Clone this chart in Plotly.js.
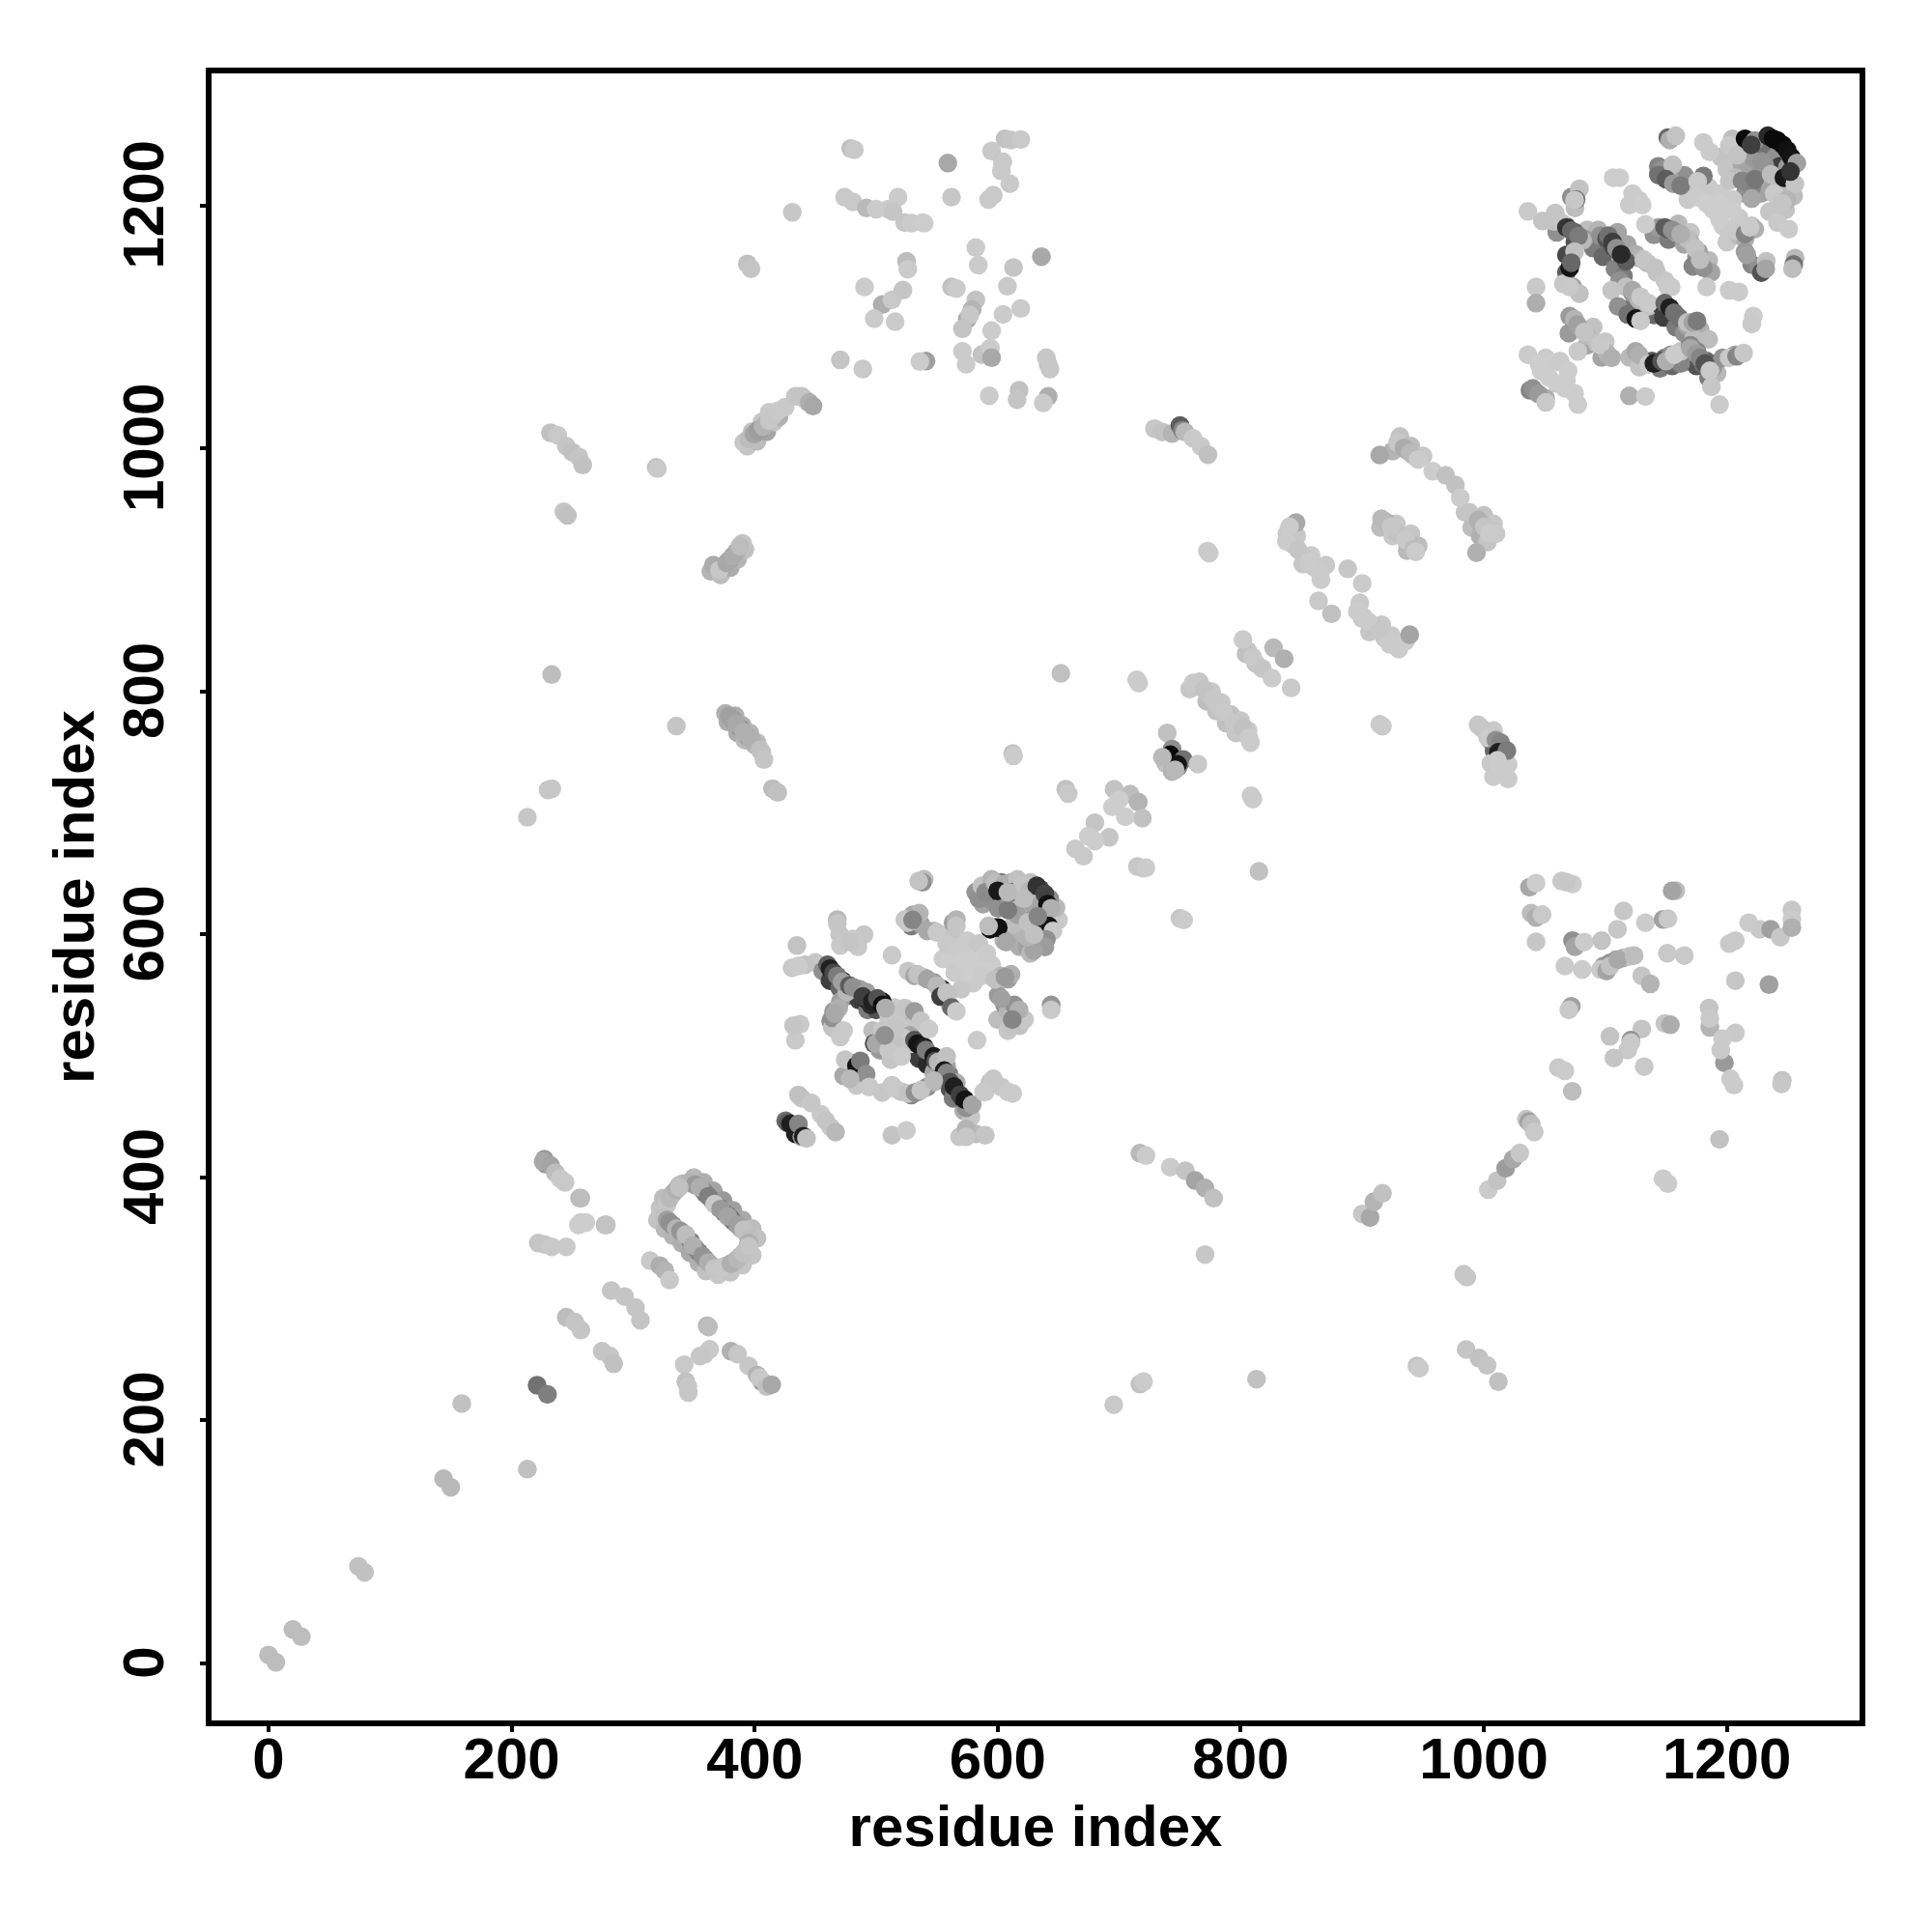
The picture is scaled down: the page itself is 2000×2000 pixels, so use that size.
<!DOCTYPE html>
<html>
<head>
<meta charset="utf-8">
<script src="https://cdn.plot.ly/plotly-3.0.1.min.js"></script>
<style>html,body{margin:0;padding:0;background:#fff}</style>
</head>
<body>
<div id="chart" style="width:2000px;height:2000px"></div>
<script>
const xLabelText = "residue index";
const yLabelText = "residue index";
const tickValues = [0, 200, 400, 600, 800, 1000, 1200];
// each contact: [residue i, residue j, score] (score 0 = lightest, 100 = black)
const fillRing = [[350,400,10],[358,396,15],[366,389,20],[374,381,25],[382,373,22],[390,365,18],[398,358,8],[402,350,6],[320,365,5],[326,358,10],[333,352,12],[340,346,15],[347,338,18],[354,330,14],[360,323,6],[370,320,3],[380,322,5],[390,328,4],[398,336,4]];
const fillLeft = [[376,782,14],[384,780,14],[390,772,14],[396,766,12],[402,758,8],[406,750,4],[378,775,16],[386,766,16],[392,760,10],[364,899,12],[372,896,8],[380,902,16],[386,909,12],[392,917,6],[390,922,4],[394,1002,4],[402,1006,8],[410,1014,20],[416,1022,5],[398,1014,5],[406,1022,3],[412,1030,2],[420,1026,14]];
const fillDiagonal = [[838,930,2],[846,928,3],[851,905,3],[858,912,1],[866,892,1],[870,904,2],[915,935,8],[928,938,3],[940,930,3],[946,920,8],[925,928,2],[937,916,10],[898,873,2],[906,849,4],[916,855,2],[924,846,2],[930,835,1],[900,860,3],[758,802,3],[766,808,3],[776,800,2],[784,791,2],[792,781,5],[800,776,3],[806,768,2],[772,792,8],[780,784,5],[788,774,6],[796,766,3],[808,758,1],[931,1010,5],[940,1002,8],[950,994,3],[925,998,12],[1000,945,6],[1008,938,3],[990,935,8],[997,928,14],[1003,923,4],[1010,930,2],[1008,768,2],[1016,745,2],[1020,740,1],[1008,730,1],[1020,728,1]];
const fillTopRight = [[1060,1178,30],[1075,1170,60],[1090,1165,40],[1098,1158,50],[1108,1148,35],[1115,1142,40],[1085,1180,8],[1094,1180,12],[1110,1178,20],[1118,1168,20],[1125,1160,15],[1140,1176,30],[1152,1172,40],[1165,1168,20],[1175,1158,30],[1172,1150,35],[1185,1155,10],[1187,1145,20],[1160,1185,10],[1170,1178,4],[1120,1115,45],[1130,1112,60],[1140,1110,50],[1148,1108,70],[1158,1100,40],[1165,1095,30],[1178,1098,15],[1185,1090,8],[1168,1072,50],[1175,1068,60],[1185,1058,40],[1192,1062,10],[1120,1075,10],[1128,1067,5],[1145,1066,40],[1155,1068,50],[1162,1070,35],[1070,1095,25],[1085,1085,20],[1097,1075,20],[1090,1100,6],[1100,1088,3],[1195,1240,5],[1200,1230,4],[1210,1250,10],[1220,1242,25],[1230,1245,45],[1240,1240,30],[1243,1232,70],[1250,1232,25],[1235,1215,8],[1245,1212,5],[1255,1208,8],[1228,1210,20],[1215,1210,30],[1165,1225,30],[1172,1212,4],[1168,1205,2],[1185,1215,2],[1195,1210,1],[1205,1205,1],[1210,1190,1],[1200,1170,2],[1235,1195,4]];
const fillCentre = [[450,577,3],[456,570,30],[462,562,70],[470,556,50],[478,550,60],[486,546,70],[493,538,40],[500,538,60],[515,540,2],[520,505,15],[527,505,40],[535,498,70],[542,493,80],[550,483,60],[560,485,40],[566,478,15],[572,455,15],[578,450,3],[470,600,3],[485,590,2],[490,600,3],[505,470,3],[565,595,1],[575,595,1],[555,580,1],[595,575,1],[580,560,1],[570,555,3],[600,530,8],[618,525,5],[622,530,3],[605,595,12],[618,590,15],[640,615,10],[650,612,2],[648,622,10],[588,625,20],[595,628,30],[615,600,15]];
const extraRing = [[348.7,395,15],[359.3,387,45],[364.6,381.8,25],[371,375,50],[377.9,368.6,55],[383,363.3,30],[388.5,358,12],[393.8,352.7,8],[327.5,366,10],[332.8,360.6,35],[339.4,355.3,20],[347.4,347.4,40],[354,338.6,40],[359.3,332.8,25],[364.6,327.5,10],[376.5,327.5,6],[383,330.7,10],[388.5,335.5,8],[393.2,340.8,5],[322.2,375,4],[322.2,368.6,4],[324.9,383,8],[332.8,387,12],[338,393.7,8]];
const extraUpperLeft = [[374,903,20],[379,908,22],[385,915,14],[382,777,28],[388,770,30],[394,763,20],[400,756,10],[397,1010,8],[401,1013,16],[405,1016,26],[409,1020,12],[415,1027,3],[425,1034,2],[436,1043,3],[441,1041,5],[444,1038,4]];
const extraMid = [[764.7,804.4,4],[774,796.5,5],[782,788.5,3],[789.9,779.2,8],[797.8,772.6,6],[842.9,921,4],[852,910.4,3],[860,902.5,2],[901,861.4,2],[909,853.4,6],[918.4,844,2],[919.7,939.5,12],[929,930.3,5],[938.3,922.3,10],[931.6,1003,10],[937,998.4,18],[942.3,994,5],[984.6,947.5,4],[991,943.5,8],[998,938,14],[805.8,833.5,3],[812.4,823,4],[804.4,831,6],[998,770,3],[1005.8,759.3,35],[1008.5,751.4,50],[1005.8,740.8,2],[1012.5,735.5,2],[738.2,740.8,6],[743.5,734.2,12],[748.8,738.1,30],[1098.5,574,25],[1103.8,576.6,28],[1109,579.2,30],[1114.4,580.6,12],[1119.7,582,5]];
const extraCentreB = [[581.9,634.9,28],[584.5,629.5,30],[587,640,5],[595,645.4,12],[603,642.8,40],[611,642.8,12],[600.4,634.8,70],[621.6,640,15],[627,642.8,6],[634.9,637.5,60],[642.8,629.5,30],[637.5,624.3,90],[634.9,613.7,8],[632.2,605.7,85],[632.2,595.1,30],[624.3,589.8,22],[626.9,584.5,10],[619,603,12],[613.7,608.3,8],[605.7,624.3,12],[600.4,621.6,30],[624.3,619,30],[619,624.3,6],[629.6,624.3,20],[640,597.8,18],[593.8,604.4,92],[597.8,605.7,92]];
const extraCentreA = [[530.2,616.3,18],[523.6,612.3,3],[528.9,607,40],[536.8,608.4,20],[547.4,603,10],[560.7,600.4,5],[563.3,609.7,22],[563.3,589.8,2],[560.7,579.2,0],[568.6,576.6,0],[574,568.6,0],[576.6,581.8,0],[584.5,573.9,0],[592.5,571,0],[603,566,12],[608.4,563.3,22],[600.4,550,25],[605.7,542,30],[608.4,536.8,12],[611,531.5,8],[608.4,520.9,3],[613.7,542,30],[526.2,570,3],[531.5,566,18],[539.5,564.6,12],[547.4,560.6,25],[554,555.3,80],[558,550,30],[560.7,542,4],[465,536.8,25],[462.6,528.8,30],[464,523.5,5],[470.5,544.8,22],[475.9,552.7,10],[467.9,521,4],[486.5,555,20],[490.4,547.4,85],[495.7,542,80],[505,544.8,90],[497,521,8],[498.4,510.3,70],[505,505,85],[503.7,513,5],[513,499.7,2],[518.3,510.3,3],[523.6,515.6,12],[510.3,528.8,2],[523.6,534.2,25],[531.5,526.2,6],[539.5,520.9,2],[528.9,513,20],[534.2,505,70],[515,531,5],[519,527,8],[524,522,3],[528,517,20],[510,535,2],[516,530,3],[522,515,2],[528,510,4],[514,512,5],[503,505,25],[512,497,4]];
const extraCentreC = [[547.4,486.5,20],[555.4,481,80],[560.7,473.2,60],[563.3,465.2,40],[571.3,465.2,90],[574,457.3,30],[551.4,497,10],[558,491.7,20],[513,475.9,3],[520.9,470.5,4],[528.9,467.9,35],[534.2,470.5,30],[542,474.5,30],[547.4,478.5,15],[478.5,494.4,20],[481,489,90],[486.5,481.2,90],[473.2,483.8,18],[483.8,475.9,3],[489,486.5,40],[425.5,446.7,45],[433.5,436,85],[438.8,433.5,25],[454.6,452,2],[462.6,441.4,2],[438.8,465.2,3],[568.6,433.5,3],[581.9,436,8],[589.8,470.5,2],[593.8,478.5,4],[603,474.5,3],[608.4,470.5,1]];
const extraTopRight = [[1057.5,1187,6],[1068,1183,45],[1074.7,1178,55],[1082.7,1172.7,25],[1095.9,1175.3,30],[1101,1172.7,60],[1106.5,1166,65],[1113,1159.4,50],[1117,1155.5,35],[1111.8,1138.3,30],[1117,1133,6],[1122.4,1127.7,25],[1127.7,1122.3,12],[1135.6,1117,6],[1146.3,1117,70],[1154,1114.4,60],[1160.8,1107.8,45],[1167.5,1101.2,20],[1172.8,1090.6,8],[1175.4,1080,35],[1183.4,1072,50],[1188.7,1066.7,25],[1127.7,1156.8,12],[1134.3,1152.8,8],[1142.3,1144.9,4],[1149,1138.3,3],[1154.2,1133,2],[1170,1170,14],[1176.7,1162,22],[1143.6,1182,25],[1151.5,1180.6,60],[1158.2,1178,20],[1167.5,1172.7,8],[1058.8,1194,4],[1072,1207,30],[1075,1198,8],[1068,1159.4,65],[1068,1145,55],[1065.4,1135.6,3],[1073.4,1133,20],[1070.7,1109,25],[1077.4,1101,20],[1085.3,1093,10],[1093.3,1086.6,6],[1101.2,1078.6,12],[1125,1080,18],[1138.3,1072,55],[1149,1074.7,40],[1154,1077.3,30],[1162,1080,5],[1170,1085,35],[1180.7,1069.3,45],[1196.6,1074.7,30],[1207,1077.3,20],[1180.7,1205.8,3],[1188.7,1196.5,0],[1196.6,1183.3,0],[1201.9,1178,2],[1209.9,1175.3,8],[1215,1172.7,15],[1220.5,1183.3,4],[1215,1162,25],[1220.5,1151.5,35],[1225.8,1148.8,30],[1204.5,1254.9,8],[1207,1244,8],[1212.5,1233.7,18],[1223,1236.3,25],[1231,1233.7,30],[1237.7,1220.4,20],[1241.7,1212.5,10],[1248.3,1196.5,5],[1215,1225.7,20],[1207,1223,8],[1220.5,1215,35],[1143.6,1232.3,35],[1143.6,1225.7,40],[1154,1220.4,15],[1119.8,1200.5,1],[1122.4,1209.8,1],[1050.9,1074.6,1],[1047,1064,0],[1057.5,1070.7,0],[1068,1056,0],[1074.7,1045.5,0],[1060,1053.5,0]];
const diagonalLow = [[0,7,8],[6,1,8],[20,28,8],[27,22,8],[74,80,6],[79,75,6],[144,152,10],[150,145,10],[159,214,6],[213,160,6],[221,229,45],[229.5,221.5,38]];
const leftStreaks = [[227,415,25],[228,411,30],[226,413,18],[232,410,20],[236,404,8],[240,399,2],[244,396,2],[256,383,10],[257,383,8],[255,361,0],[257,363,0],[261,363,0],[277,361,10],[278,361,5],[222,346,4],[227,345,4],[233,343,2],[245,343,2],[213,696.5,3],[230,719,3],[233,720,3],[233,814,8],[335.6,771.6,4]];
const ringOuter = [[341,395,10],[346,396,12],[351,394,25],[357,390,32],[355,392,15],[362,384.5,38],[367,378,2],[375,371,40],[372,374,25],[380.5,366,45],[378,368,20],[386,361,22],[391,357,6],[396,349,8],[395,346,15],[328,378,4],[330,383,10],[335.5,390,14],[338,392,6],[325,367,6],[328,365,22],[330,363,30],[335.5,358,12],[339,356,28],[343.4,353,8],[351,342,35],[349,344,14],[357,335.5,28],[362,330,15],[367,325,4],[372.5,326,3],[380.5,329,14],[386,333,10],[391,338,6],[395,343.4,4]];
const lowerSet = [[314,331.5,2],[322,327.5,15],[326,323.5,12],[330,315.6,2],[282,307,4],[293,302,4],[302,293,4],[306,282.5,4],[245,285,8],[252,281,4],[257,274.5,4],[274.5,257,4],[281,253,4],[284,246.7,6],[361,278,12],[362,277,8],[359,254.6,3],[363,258.6,2],[355,253,3],[380.5,257,14],[386,254.6,3],[395,245,3],[402,237.4,12],[406,232,25],[404,235,2],[410,228,6],[414,229.5,18],[342,246,2],[343.4,232,6],[345.5,223,3],[345,228,3]];
const upperLeft = [[232,1013,6],[238,1011,2],[245,1002,4],[250,997,6],[255.5,993,4],[258.5,986.5,6],[243,948,4],[246,945,6],[319,984.5,6],[320,983.5,2],[366,904,16],[371,900,3],[377,906,18],[382,911.5,16],[388,919.6,8],[379,780,22],[385,773.6,18],[391,766.5,14],[397.5,760,14],[404.5,752,6],[407.6,744,4],[414.7,720,8],[419,717,6],[394,1152,6],[397,1148,4],[391,1005,3],[395,1008,8],[399.5,1012,20],[403,1015,24],[407,1018,12],[412,1023,3],[419,1031,2],[433.5,1043,4],[438.8,1043,5],[445,1038,15],[448,1035,18]];
const topCentre = [[479,1247,6],[482,1246,2],[431,1194.5,3],[559,1235,18],[562,1207,3],[606,1255,6],[611,1254,4],[619,1254.4,2],[595,1245,2],[604,1236,15],[604,1236,2],[603,1228.5,2],[610,1218,2],[592.5,1205,2],[596.4,1208.6,2],[474,1207,2],[481,1203,2],[492,1198,10],[500,1197,1],[510,1197,1],[518,1207,1],[514,1195,4],[523.5,1186,4],[529,1185.5,1],[538,1186,1],[539.5,1185.5,0],[490.4,1133,1],[505,1118.5,15],[513,1122.4,2],[522,1130.4,4],[498.4,1107,1],[515.6,1104.4,1],[525,1154.2,8],[526,1147.6,1],[562,1133,5],[566,1131.7,1],[582,1165.4,1],[584,1151,1],[613,1149,4],[608,1133.6,2],[636,1158,18],[582,1122.4,5],[579,1114.5,12],[575,1106.5,18],[577,1110,3],[571,1098.6,5],[604.4,1110.5,1],[619,1115.3,1],[595,1097,1],[470.5,1073,4],[489,1065.5,2],[541,1072,22],[536,1071.6,1],[571,1080,1],[574,1069.4,1],[587,1077.4,5],[594,1082.7,1],[595,1074.8,18],[641.5,1069.4,6],[643,1065.5,3],[640,1074.8,3],[593,1043.5,1],[617.6,1048,6],[616,1040.3,4],[641.5,1043,15],[637.5,1037.6,1]];
const centreBlockA = [[460,575,55],[462,572,85],[465,568.6,65],[472,562,90],[468,566,40],[472,561,22],[478,558,55],[481,556.7,30],[491.8,552.7,22],[489,549,70],[497,545,85],[501,547.4,60],[505,542,92],[507.7,539.5,15],[531.5,513,60],[534,510,90],[539.5,507.6,85],[541,505,40],[547.4,499.7,88],[549,496,60],[551,495,10],[558,499.7,6],[556,488,88],[558,486,35],[560.7,478.5,60],[564,475,85],[569,468,70],[573,464,90],[579,460,20],[434.8,591,5],[441.4,575,5],[430.8,572.6,2],[436,574,1],[468,612.3,10],[468,609,4],[481,596.4,2],[470.5,591,2],[478,594,4],[513,583,2],[539.5,645.4,8],[538,643,30],[535,644,5],[535.5,617.6,12],[526,609.7,2],[530,612,35],[542,603,18],[550,601.7,2],[566,612.3,12],[566,607,4]];
const centreBlockB = [[590,634.8,32],[597.8,642.8,8],[605.7,641.5,15],[600,636,88],[616.3,645.4,6],[612,635,50],[620,640,5],[626,636,10],[632.2,640,75],[638.8,633.5,68],[641,625,92],[644,621.6,14],[642,607,90],[645.5,603,2],[640,596,30],[638.8,589.8,24],[629.6,587,20],[624.3,597.8,12],[616.3,616.3,22],[608.4,620.3,40],[600.4,605.7,92],[607,593.8,18],[592.5,607,8],[621.6,629.5,8],[608.4,634.8,10],[625,610,6],[633,615,35],[630,600,6]];
const centreBlockC = [[558,592.5,2],[568.6,587,1],[564.6,568.6,1],[571,579,0],[584.5,592.5,3],[591,584.5,1],[579,571.3,0],[587,566,1],[597.8,563,6],[611,567.3,14],[606,565,25],[534,567.3,5],[542,563.3,20],[550,558,10],[558,551.4,2],[553,549,70],[558,552,5],[562,540,50],[566,536.8,1],[603,547.4,22],[617.6,538,14],[611,525,5],[612,530,35],[644,542,28],[644,538,2],[583,513,1],[437.4,526.2,2],[433.5,513,2],[432,525,4],[469.2,539.5,15],[464,531.5,30],[466,535,18],[473.2,521,2],[470.5,515.6,2],[523.5,539.5,4],[531.5,536.8,24],[536.8,529,4],[543.4,522.2,1],[515.6,523.5,4],[505,521,3],[499.7,510.3,18],[510.3,505,3],[520.9,499.7,1],[507,517,30],[474.5,497,4],[483.8,491.8,90],[487,496,40],[491.8,485,30],[478.5,481.2,10],[494.4,474.5,2],[515.6,473.2,2],[526.2,469.2,5],[532,470,30],[536.8,471.9,4],[547.4,479.8,10],[596.4,481.2,3],[588.5,470.5,2],[612.3,469.2,1],[436,468,6],[446.7,461.3,3],[458.6,446.7,4],[466.6,437.4,10],[427,445,55],[429.5,444,85],[436,444,35],[440,434,85],[442.7,432.2,6],[513,434.8,5],[524.9,438.8,1],[574,440,12],[574,433.5,3],[589.8,434.8,4]];
const midStreaks = [[729,1016.4,3],[735.5,1013.7,5],[743.5,1012.4,12],[750,1019,55],[752,1015,35],[754,1013.7,10],[760.7,1008.5,2],[767.4,1001.8,2],[773,995,6],[914.4,994.7,18],[929,1005,3],[934.3,1000.5,16],[939.6,996.5,10],[946,991,1],[958,981.4,0],[968.7,978,6],[976.7,970,6],[980.7,959.4,1],[988,947.5,4],[995.3,941,14],[1000.5,935.6,4],[1004.5,930.3,1],[994,914.4,14],[845.5,939,18],[840.2,935.6,1],[837.6,923.6,1],[847,917,4],[856.1,906.4,1],[865.4,897,1],[888,901,3],[900,889,1],[915.8,942.2,10],[923.7,935.6,3],[935.6,925,2],[942.3,917,8],[944,915,1],[772.6,915.7,1],[774,914,1],[864,874.6,2],[874.7,864,6],[895.9,866,1],[905.2,857.4,1],[914.4,849.5,3],[922.4,839,1],[935.6,841.5,1],[939,846.8,20],[801.8,842.8,1],[809.8,828.3,2],[817.7,819,4],[827,836,10],[835.7,827,14],[825.7,811,1],[841.5,803,2],[760.7,807,2],[770,801.7,5],[778,793.8,3],[785.9,783.2,2],[793.9,774,3],[801.8,770,6],[806.6,762,1],[714.4,809.7,1],[716,807,1],[914.4,773,1],[916.6,771.5,1]];
const midStreaksB = [[995.3,772.6,3],[1003.2,762,1],[1010,760,30],[1013.8,758,35],[1012,750,85],[1019,751.4,40],[1011.2,743.4,1],[1015,731.5,1],[1013,737,1],[739.5,766,6],[743.5,752.7,30],[742,748,95],[752.8,744,45],[748,740,90],[735.5,746,10],[746,735.5,10],[764.7,740.3,2],[808.4,714.3,1],[810,711.5,1],[719.7,654.7,1],[715,656,3],[815,652,6],[695.8,719.6,5],[709,715.6,8],[715.7,709,12],[719,695.8,6],[694.5,705,0],[705,697,0],[700,711,0],[680,692,4],[691.8,680,4],[674.6,681,0],[664,670.6,2],[670.6,664.5,2],[680,677,0],[656,719.6,6],[658,716,2],[652,815,6],[612.4,749,6],[613,747,1],[695.5,213,2],[717,230,5],[720,232,1],[813,234,6],[770.6,336.6,3],[717,420,10],[722,418,1],[742,408.6,1],[754.4,405.6,5],[762.5,397.5,20],[770.6,391.4,14],[777.7,383,6],[900,370,3],[906.4,367,18],[909.5,380,12],[916.6,387,6],[983.5,320.4,3],[986,318,3],[945,245,4],[947,243,1],[985.5,258.5,4],[996,251.4,6],[1002.7,245.4,4],[1012,232,6],[750,613.4,3],[753,612,1],[722,655,1]];
const lowerRight = [[1037.6,639,18],[1043,642.3,0],[1064,644,2],[1073,641.5,0],[1068,643,3],[1158,636.2,8],[1155,636,20],[1039,617.6,8],[1043,614,15],[1048,616.4,2],[1043,594,3],[1115,619.5,3],[1110,604.4,3],[1133,609.7,1],[1147.5,612.4,22],[1151.5,613,2],[1151,584.6,2],[1165,582.7,2],[1073,595,30],[1075,590,20],[1082.6,593.8,1],[1097,595,5],[1066.7,574,1],[1081,571.3,1],[1096,571.3,2],[1101,570,20],[1104,574,6],[1110.4,579.3,18],[1123.7,582.7,8],[1130,566,4],[1137,559.4,12],[1072,541,22],[1070,538,2],[1103.8,516.2,5],[1130,522.3,4],[1121,513,30],[1121,511,2],[1118.4,505,2],[1107,498.4,4],[1132,491.3,2],[1149,526.8,3],[1153.6,525.7,16],[1061.4,490.4,2],[1066.7,487.8,1],[1072.8,471,8],[1185.4,539.5,4],[1186,523.6,12],[1186,531,2],[1207,519,2],[1196.5,514.3,1],[1198,494.4,25],[1195,505,2],[1203,481.2,1],[1205.8,476,1],[1245.6,480,5],[1245,477,3],[1194,431.4,6],[1207,595,2],[1202,592.5,2],[1218,609.7,1],[1227,604.4,2],[1236,604.4,22],[1244,597.8,3],[1253.5,620.3,3],[1253.5,612.4,1],[1253.5,605.8,14],[1207,562,3],[1234.7,558.8,22],[1035,448,4],[1037,446,22],[1039,444,8],[1041.5,437.5,2],[1003.7,390,1],[1011,397.4,5],[1018,407.6,24],[1024,415,18],[1029.6,420.2,3],[1147.5,399,1],[1151.5,395,1]];
const topRightA = [[1151.5,1256,50],[1153,1254,15],[1158,1257.5,5],[1180.7,1252,1],[1186,1244.2,1],[1202,1249.5,2],[1208.5,1241.6,5],[1215,1255,95],[1223,1253.5,30],[1220,1250,70],[1233.7,1257.5,80],[1238,1255,95],[1241.7,1253.5,95],[1246,1250,95],[1249.6,1245.6,92],[1253,1240,90],[1257.6,1235,22],[1147.6,1229.7,30],[1144,1225,45],[1155.5,1233.6,6],[1150,1221.7,55],[1156,1218,25],[1162,1216.4,40],[1180.7,1224.4,40],[1176,1220,2],[1202,1220.4,4],[1212.5,1220.4,35],[1223,1221.7,42],[1228.4,1236.3,28],[1236.4,1225.7,8],[1220.5,1205.8,18],[1239,1209.8,2],[1247,1223,88],[1256,1217.7,4],[1249.6,1204.5,12],[1245.6,1201.8,4],[1252.3,1228,75]];
const topRightB = [[1175.4,1207,1],[1183.4,1201.8,0],[1194,1201.8,0],[1204.5,1196.5,0],[1194,1188.6,0],[1207,1179.3,2],[1223,1180.6,14],[1215,1176.7,35],[1219,1182,2],[1241.7,1186,2],[1250.9,1180.6,1],[1106.5,1223,0],[1111.8,1223,0],[1127.7,1204.5,1],[1130.4,1200.5,0],[1133,1184.6,0],[1078.7,1213.8,5],[1076,1205,40],[1074.7,1204.5,3],[1036.3,1195.2,2],[1048.2,1187.3,5],[1064,1186,4],[1068,1182,75],[1072,1179.3,50],[1081.3,1171.4,10],[1078,1175,40],[1102.5,1175.3,45],[1106,1170,70],[1109.2,1164.8,30],[1117,1154.2,55],[1113,1160,80],[1074.7,1162.1,6],[1070.7,1148.8,90],[1072,1153,50],[1078.7,1127.6,6],[1070.7,1133,2],[1043,1133,2],[1043,1119.7,15],[1148.9,1182,55],[1155,1180,30],[1162,1176.7,15],[1174,1164.8,5],[1180.7,1148.8,30],[1178,1155.5,8],[1131.7,1155.5,4],[1141,1148.8,5],[1151.5,1133,1],[1135.6,1119.7,1],[1122.4,1130.3,18],[1129,1125,2],[1105.2,1130.3,4],[1110.5,1117,30],[1118.4,1110.4,45],[1125,1107,90],[1129,1105.1,2],[1148.9,1119.7,50],[1153,1116,85],[1156.8,1111.8,45],[1167.5,1103.8,6],[1172,1104,20],[1175.4,1105.1,40],[1183.4,1133,1],[1201.9,1130.3,1],[1209.9,1129,1],[1221.8,1109.1,1],[1220.5,1102.5,2],[1216.5,1159.4,22],[1232.4,1154.2,6],[1228.4,1144.9,60],[1232,1148,20],[1256.2,1156.8,10],[1255,1151.5,45],[1254,1148,8]];
const topRightC = [[1074.7,1106.5,12],[1077,1102,22],[1082.7,1095.9,5],[1095.9,1085.3,2],[1105.2,1074.7,14],[1077.4,1080,2],[1127.7,1077.3,14],[1135.6,1069.3,1],[1140,1070,85],[1146.3,1072,60],[1150,1072,15],[1156.8,1077.3,1],[1170,1082.6,18],[1175,1078,25],[1178,1074.7,35],[1182,1070,60],[1186,1064,2],[1201.9,1074.7,2],[1208,1076,35],[1213.8,1078.6,3],[1187.3,1050.8,3],[1194,1036.2,1],[1119.8,1043.4,14],[1133,1042.9,1],[1036.3,1077.3,1],[1045.6,1069.3,0],[1062.8,1072,1],[1069.4,1064,0],[1053.5,1058.7,0],[1066.8,1049.5,0],[1077.4,1036.2,0],[1038,1048,35],[1040.3,1049.5,30],[1050.9,1041.5,15],[1045,1045,25],[1051,1038,2]];

const clusters = [fillRing, fillLeft, fillDiagonal, fillTopRight, fillCentre, extraRing, extraUpperLeft, extraMid, extraCentreB, extraCentreA, extraCentreC, extraTopRight, diagonalLow, leftStreaks, ringOuter, lowerSet, upperLeft, topCentre, centreBlockA, centreBlockB, centreBlockC, midStreaks, midStreaksB, lowerRight, topRightA, topRightB, topRightC];
const contacts = clusters.flat();
const residueI = contacts.map(p => p[0]);
const residueJ = contacts.map(p => p[1]);
const contactScore = contacts.map(p => p[2]);

const axisFont = {family: '"Liberation Sans", Arial, sans-serif', size: 60, color: '#000', weight: 700};
const axisBase = {
  tickmode: 'array', tickvals: tickValues, ticktext: tickValues.map(String),
  showgrid: false, zeroline: false, showline: true, mirror: true,
  linecolor: '#000', linewidth: 6, ticks: 'outside', ticklen: 6, tickwidth: 4, tickcolor: '#000',
  tickfont: axisFont, automargin: false
};
Plotly.newPlot('chart', [{
  type: 'scatter', mode: 'markers', x: residueI, y: residueJ, cliponaxis: true,
  marker: {size: 19.5, color: contactScore, cmin: 0, cmax: 100, line: {width: 0},
    colorscale: [[0, '#cdcdcd'], [1, '#000000']], showscale: false}
}], {
  width: 2000, height: 2000,
  margin: {l: 219, r: 75, t: 75.5, b: 219, pad: 0},
  paper_bgcolor: '#fff', plot_bgcolor: '#fff', showlegend: false,
  xaxis: Object.assign({}, axisBase, {range: [-46.9, 1309.2], ticklabelstandoff: -24,
    title: {text: xLabelText, font: axisFont, standoff: 18}}),
  yaxis: Object.assign({}, axisBase, {range: [-46.9, 1308.8], tickangle: -90, ticklabelstandoff: 14, ticklabelshift: 8,
    title: {text: yLabelText, font: axisFont, standoff: 0}})
}, {displayModeBar: false, staticPlot: true});
</script>
</body>
</html>
